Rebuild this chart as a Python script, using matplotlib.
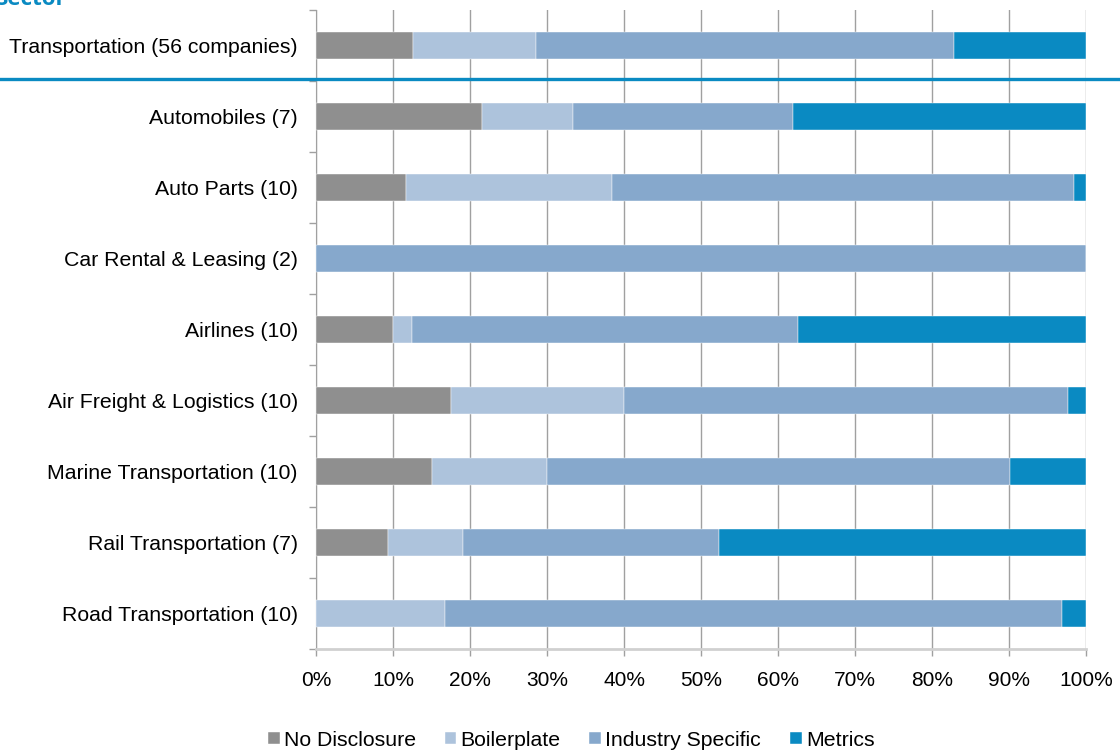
import matplotlib.pyplot as plt
import numpy as np
from matplotlib.lines import Line2D
from matplotlib.ticker import PercentFormatter

plt.rcParams['font.family'] = ['Liberation Sans', 'DejaVu Sans']

# 各行业的披露类型占比（%）
sectors = ['Transportation (56 companies)', 'Automobiles (7)', 'Auto Parts (10)',
           'Car Rental & Leasing (2)', 'Airlines (10)', 'Air Freight & Logistics (10)',
           'Marine Transportation (10)', 'Rail Transportation (7)', 'Road Transportation (10)']
no_disclosure = [12.6, 21.5, 11.7, 0, 10.0, 17.5, 15.0, 9.4, 0]
boilerplate = [16.0, 11.9, 26.7, 0, 2.5, 22.5, 15.0, 9.7, 16.7]
industry_specific = [54.2, 28.6, 60.0, 100, 50.1, 57.7, 60.1, 33.3, 80.2]
metrics = [17.2, 38.0, 1.6, 0, 37.4, 2.3, 9.9, 47.6, 3.1]

series = ['No Disclosure', 'Boilerplate', 'Industry Specific', 'Metrics']
colors = ['#8f8f8f', '#adc3dc', '#86a8cc', '#0a8ac2']

data = np.array([no_disclosure, boilerplate, industry_specific, metrics]) / 100
y = np.arange(len(sectors))

fig = plt.figure(figsize=(11.2, 7.54), dpi=100)
ax = fig.add_axes([316 / 1120, 1 - 649 / 754, 770 / 1120, 639 / 754])

left = np.zeros(len(sectors))
for vals, name, c in zip(data, series, colors):
    ax.barh(y, vals, left=left, height=0.39, color=c, label=name,
            edgecolor='white', linewidth=0.3, zorder=3)
    left += vals

ax.set_xlim(0, 1)
ax.set_ylim(len(sectors) - 0.5, -0.5)
ax.set_xticks(np.arange(0, 1.01, 0.1))
ax.xaxis.set_major_formatter(PercentFormatter(1, decimals=0))
ax.set_yticks(y)
ax.set_yticklabels(sectors)
ax.set_yticks(np.arange(-0.5, len(sectors)), minor=True)

ax.grid(axis='x', color='#a0a0a0', linewidth=1, zorder=0)
ax.tick_params(axis='y', which='major', length=0, pad=13, labelsize=15.3, colors='black')
ax.tick_params(axis='y', which='minor', length=5, color='#a0a0a0', width=1)
ax.tick_params(axis='x', length=5, color='#a0a0a0', width=1, pad=11, labelsize=15)

for s in ['top', 'right']:
    ax.spines[s].set_visible(False)
ax.spines['left'].set_color('#a0a0a0')
ax.spines['bottom'].set_color('#d0d0d0')
ax.spines['bottom'].set_linewidth(2)

# 总体与细分行业之间的分隔线
fig.add_artist(Line2D([0, 1], [1 - 79 / 754, 1 - 79 / 754], transform=fig.transFigure,
                      color='#0a8ac2', linewidth=2.4))

fig.text(-0.004, 1 - 5 / 754, 'Sector', color='#0a8ac2', fontsize=16,
         fontweight='bold', va='baseline', ha='left', family=['Open Sans', 'DejaVu Sans'])

fig.legend(loc='center', bbox_to_anchor=(0.51, 1 - 740 / 754), ncol=4, frameon=False,
           fontsize=15.3, handlelength=0.55, handleheight=0.55, handletextpad=0.2,
           columnspacing=1.35)

fig.savefig('out.png', dpi=100)
